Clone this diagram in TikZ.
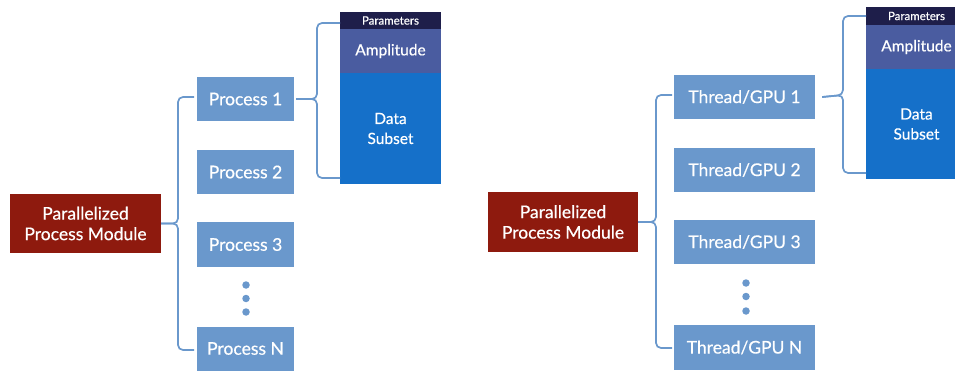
\documentclass[tikz,border=0pt]{standalone}
\usepackage{fontspec}
\setmainfont{Lato}[FakeBold=0.5]
\definecolor{procblue}{HTML}{6A98CC}
\definecolor{modred}{HTML}{8E1A0E}
\definecolor{parnavy}{HTML}{1E1E4A}
\definecolor{ampblue}{HTML}{4A5CA0}
\definecolor{datablue}{HTML}{1570C9}
\begin{document}
\begin{tikzpicture}[x=1pt,y=-1pt,
  box/.style={rectangle,inner sep=0pt,text=white,align=center,font=\fontsize{17.5}{20.5}\selectfont},
  modbox/.style={box,fill=modred,minimum width=151pt,minimum height=59pt},
  procbox/.style={box,fill=procblue,minimum width=97pt,minimum height=44pt},
  thrbox/.style={box,fill=procblue,minimum width=141pt,minimum height=44pt},
  parbox/.style={box,fill=parnavy,minimum width=101pt,font=\fontsize{11.5}{14}\selectfont},
  ampbox/.style={box,fill=ampblue,minimum width=101pt,font=\fontsize{15.5}{18}\selectfont},
  databox/.style={box,fill=datablue,minimum width=101pt,font=\fontsize{15.5}{20}\selectfont},
  br/.style={draw=procblue,line width=1.7pt,rounded corners=5pt},
  dot/.style={circle,fill=procblue,inner sep=0pt,minimum size=7.5pt}]
\useasboundingbox (0,0) rectangle (955,371);
\clip (0,0) rectangle (955,371);
% ---------- left ----------
\node[modbox] (mL) at (85.5,223.5) {Parallelized\\Process Module};
\node[procbox] (pL1) at (245.5,99) {Process 1};
\node[procbox] (pL2) at (245.5,172) {Process 2};
\node[procbox] (pL3) at (245.5,244.5) {Process 3};
\node[procbox] (pLN) at (245.5,348.5) {Process N};
\node[dot] (dL1) at (246,285) {};
\node[dot] (dL2) at (246,298.5) {};
\node[dot] (dL3) at (246,312) {};
\node[parbox,minimum height=17pt] (parL) at (390.5,20.5) {Parameters};
\node[ampbox,minimum height=44pt] (ampL) at (390.5,51) {Amplitude};
\node[databox,minimum height=111pt] (datL) at (390.5,128.5) {Data\\Subset};
\coordinate (bLt) at (194,97);
\coordinate (bLb) at (194,350);
\coordinate (bLm) at (178,223.5);
\draw[br] (bLt) -| (bLm) -- (mL.east);
\draw[br] (bLb) -| (bLm) -- (mL.east);
\coordinate (sLt) at (340,23);
\coordinate (sLb) at (340,178);
\coordinate (sLm) at (317,99);
\draw[br] (sLt) -| (sLm) -- ([xshift=2pt]pL1.east);
\draw[br] (sLb) -| (sLm) -- ([xshift=2pt]pL1.east);
% ---------- right ----------
\node[modbox,minimum width=150pt,minimum height=60pt] (mR) at (563,222) {Parallelized\\Process Module};
\node[thrbox] (tR1) at (744.5,97) {Thread/GPU 1};
\node[thrbox] (tR2) at (744.5,170) {Thread/GPU 2};
\node[thrbox] (tR3) at (744.5,242) {Thread/GPU 3};
\node[thrbox,minimum height=45pt] (tRN) at (744.5,347.5) {Thread/GPU N};
\node[dot] (dR1) at (746,283) {};
\node[dot] (dR2) at (746,296.5) {};
\node[dot] (dR3) at (746,311) {};
\node[parbox,minimum height=18pt] (parR) at (916.5,16) {Parameters};
\node[ampbox,minimum height=44pt] (ampR) at (916.5,47) {Amplitude};
\node[databox,minimum height=110pt] (datR) at (916.5,124) {Data\\Subset};
\coordinate (bRt) at (672,95);
\coordinate (bRb) at (672,348);
\coordinate (bRm) at (656,222);
\draw[br] (bRt) -| (bRm) -- (mR.east);
\draw[br] (bRb) -| (bRm) -- (mR.east);
\coordinate (sRt) at (866,16);
\coordinate (sRb) at (866,173);
\coordinate (sRm) at (843,95);
\draw[br] (sRt) -| (sRm) -- ([xshift=7pt]tR1.east);
\draw[br] (sRb) -| (sRm) -- ([xshift=7pt]tR1.east);
\end{tikzpicture}
\end{document}
